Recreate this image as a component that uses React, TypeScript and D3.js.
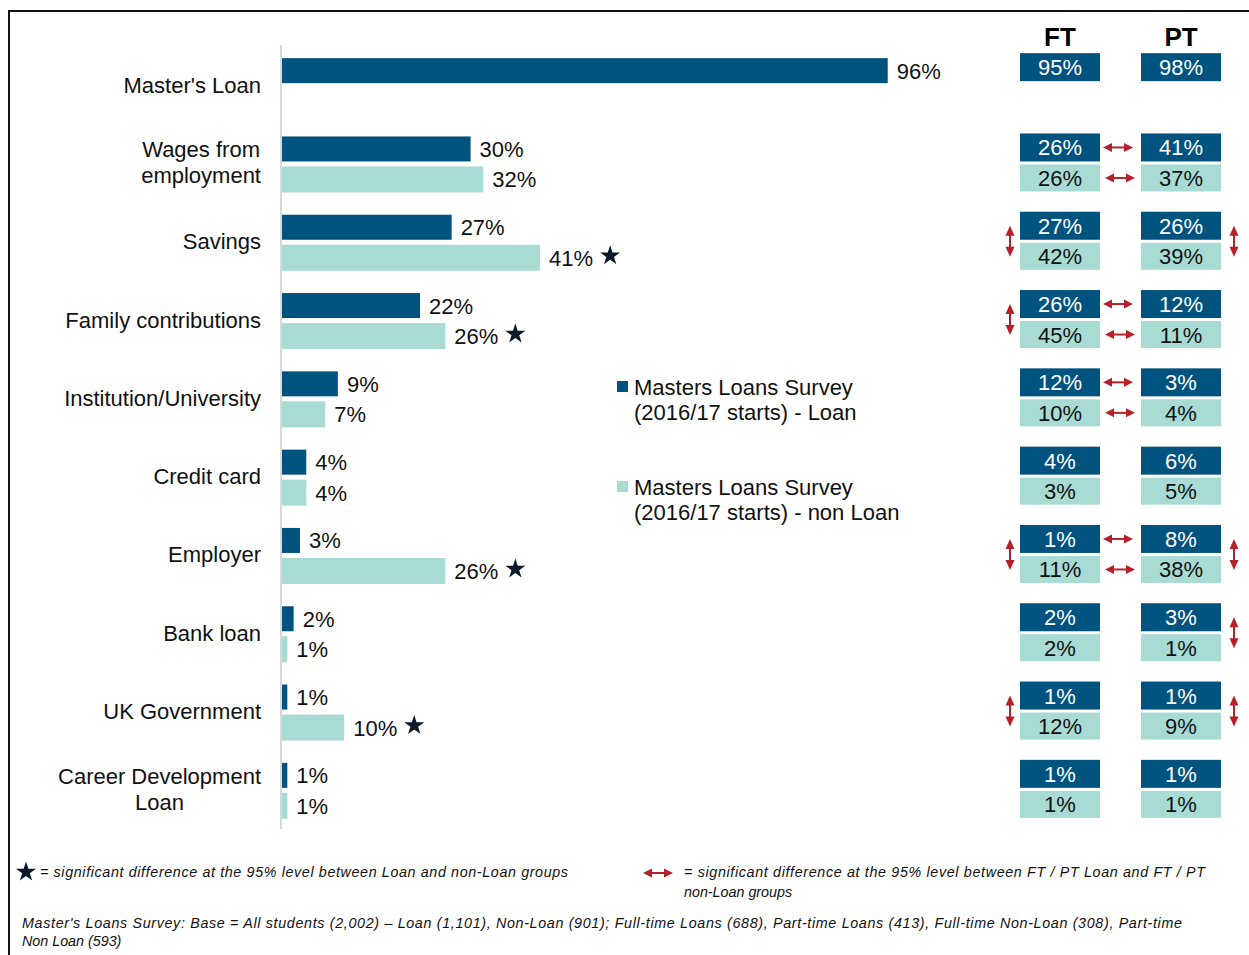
import React, { useMemo } from "react";
import * as d3 from "d3";

const categories = [
  "Master's Loan",
  "Wages from\nemployment",
  "Savings",
  "Family contributions",
  "Institution/University",
  "Credit card",
  "Employer",
  "Bank loan",
  "UK Government",
  "Career Development\nLoan",
];
const loanValues: (number | null)[] = [96, 30, 27, 22, 9, 4, 3, 2, 1, 1];
const nonLoanValues: (number | null)[] = [null, 32, 41, 26, 7, 4, 26, 1, 10, 1];
const starRows = ["Savings", "Family contributions", "Employer", "UK Government"];

const ftLoan: (number | null)[] = [95, 26, 27, 26, 12, 4, 1, 2, 1, 1];
const ftNonLoan: (number | null)[] = [null, 26, 42, 45, 10, 3, 11, 2, 12, 1];
const ptLoan: (number | null)[] = [98, 41, 26, 12, 3, 6, 8, 3, 1, 1];
const ptNonLoan: (number | null)[] = [null, 37, 39, 11, 4, 5, 38, 1, 9, 1];

const hArrowRows = ["Wages from\nemployment", "Family contributions", "Institution/University", "Employer"];
const vArrowFTRows = ["Savings", "Family contributions", "Employer", "UK Government"];
const vArrowPTRows = ["Savings", "Employer", "Bank loan", "UK Government"];

const legendLabels = [
  ["Masters Loans Survey", "(2016/17 starts) - Loan"],
  ["Masters Loans Survey", "(2016/17 starts) - non Loan"],
];
const colHeaders = ["FT", "PT"];

const DARK = "#00537F";
const LIGHT = "#A7DBD3";
const RED = "#B5202A";
const FONT = "'Liberation Sans', Arial, sans-serif";

function measure(text: string, font: string) {
  if (typeof document === "undefined") return text.length * 11;
  const c = document.createElement("canvas").getContext("2d");
  if (!c) return text.length * 11;
  c.font = font;
  return c.measureText(text).width;
}

const HArrow = ({ x1, x2, y }: { x1: number; x2: number; y: number }) => (
  <g fill={RED} stroke={RED}>
    <line x1={x1 + 6} x2={x2 - 6} y1={y} y2={y} strokeWidth={2} />
    <path d={`M${x1},${y} L${x1 + 9},${y - 4.5} L${x1 + 9},${y + 4.5} Z`} stroke="none" />
    <path d={`M${x2},${y} L${x2 - 9},${y - 4.5} L${x2 - 9},${y + 4.5} Z`} stroke="none" />
  </g>
);
const VArrow = ({ x, y1, y2 }: { x: number; y1: number; y2: number }) => (
  <g fill={RED} stroke={RED}>
    <line x1={x} x2={x} y1={y1 + 6} y2={y2 - 6} strokeWidth={2} />
    <path d={`M${x},${y1} L${x - 4.5},${y1 + 10} L${x + 4.5},${y1 + 10} Z`} stroke="none" />
    <path d={`M${x},${y2} L${x - 4.5},${y2 - 10} L${x + 4.5},${y2 - 10} Z`} stroke="none" />
  </g>
);

export default function App() {
  const x = d3.scaleLinear().domain([0, 100]).range([281, 913]);
  const y = d3.scaleBand<string>().domain(categories).range([47, 830]).padding(0);
  const cy = (c: string) => (y(c) as number) + y.bandwidth() / 2;
  const star = d3.symbol().type(d3.symbolStar).size(125)() as string;
  const labelFont = `22px ${FONT}`;

  const colX = [1020, 1141];
  const boxW = 80;
  const tables = [
    [ftLoan, ftNonLoan],
    [ptLoan, ptNonLoan],
  ];

  const labelNodes = useMemo(
    () =>
      categories.map((c) => {
        const lines = c.split("\n");
        const c0 = cy(c);
        if (lines.length === 1) {
          return (
            <text key={c} x={261} y={c0 + 6.5} textAnchor="end">
              {c}
            </text>
          );
        }
        const maxW = Math.max(...lines.map((l) => measure(l, labelFont)));
        const mid = 261 - maxW / 2;
        return (
          <text key={c} x={mid} textAnchor="middle">
            {lines.map((l, i) => (
              <tspan key={i} x={mid} y={c0 - 7 + i * 26}>
                {l}
              </tspan>
            ))}
          </text>
        );
      }),
    []
  );

  return (
    <svg
      width={1249}
      height={955}
      style={{ position: "absolute", left: 0, top: 0, background: "#fff" }}
      fontFamily={FONT}
    >
      {/* frame */}
      <line x1={8} x2={1249} y1={11} y2={11} stroke="#111" strokeWidth={2} />
      <line x1={9} x2={9} y1={10} y2={955} stroke="#111" strokeWidth={2} />

      {/* axis */}
      <line x1={x(0)} x2={x(0)} y1={45} y2={829} stroke="#D9D9D9" strokeWidth={2} />

      {/* category labels */}
      <g fontSize={22} fill="#111">{labelNodes}</g>

      {/* bars */}
      {categories.map((c, i) => {
        const c0 = cy(c);
        const lv = loanValues[i];
        const nv = nonLoanValues[i];
        return (
          <g key={c} fontSize={22} fill="#111">
            {lv != null && (
              <>
                <rect x={x(0) + 1} y={c0 - 28} width={x(lv) - x(0) - 1} height={25} fill={DARK} />
                <text x={x(lv) + 9} y={c0 - 15.5 + 8}>
                  {lv}%
                </text>
              </>
            )}
            {nv != null && (
              <>
                <rect x={x(0) + 1} y={c0 + 2} width={x(nv) - x(0) - 1} height={26} fill={LIGHT} />
                <text x={x(nv) + 9} y={c0 + 15 + 8}>
                  {nv}%
                </text>
                {starRows.includes(c) && (
                  <path
                    d={star}
                    transform={`translate(${x(nv) + 9 + measure(`${nv}%`, labelFont) + 17},${c0 + 13})`}
                    fill="#0A1A2A"
                  />
                )}
              </>
            )}
          </g>
        );
      })}

      {/* legend */}
      {legendLabels.map((lines, i) => {
        const ly = 381 + i * 100;
        return (
          <g key={i} fontSize={22} fill="#111">
            <rect x={617} y={ly} width={11} height={11} fill={i === 0 ? DARK : LIGHT} />
            {lines.map((l, j) => (
              <text key={j} x={634} y={ly + 14 + j * 25}>
                {l}
              </text>
            ))}
          </g>
        );
      })}

      {/* column headers */}
      {colHeaders.map((h, k) => (
        <text
          key={h}
          x={colX[k] + boxW / 2}
          y={46}
          textAnchor="middle"
          fontSize={26}
          fontWeight="bold"
          fill="#000"
        >
          {h}
        </text>
      ))}

      {/* FT / PT table */}
      {categories.map((c, i) => {
        const c0 = cy(c);
        const top = i === 0 ? c0 - 33 : c0 - 31;
        return (
          <g key={c} fontSize={22}>
            {tables.map((t, k) => (
              <g key={k}>
                {t[0][i] != null && (
                  <>
                    <rect x={colX[k]} y={top} width={boxW} height={28} fill={DARK} />
                    <text x={colX[k] + boxW / 2} y={top + 14 + 8} textAnchor="middle" fill="#fff">
                      {t[0][i]}%
                    </text>
                  </>
                )}
                {t[1][i] != null && (
                  <>
                    <rect x={colX[k]} y={c0} width={boxW} height={27} fill={LIGHT} />
                    <text x={colX[k] + boxW / 2} y={c0 + 13.5 + 8} textAnchor="middle" fill="#111">
                      {t[1][i]}%
                    </text>
                  </>
                )}
              </g>
            ))}
            {hArrowRows.includes(c) && (
              <>
                <HArrow x1={1103} x2={1133} y={c0 - 17} />
                <HArrow x1={1105} x2={1135} y={c0 + 13.5} />
              </>
            )}
            {vArrowFTRows.includes(c) && <VArrow x={1010} y1={c0 - 17} y2={c0 + 14} />}
            {vArrowPTRows.includes(c) && <VArrow x={1234} y1={c0 - 17} y2={c0 + 14} />}
          </g>
        );
      })}

      {/* footer notes */}
      <g fontSize={14.3} fontStyle="italic" fill="#111">
        <path d={star} transform="translate(26,872)" fill="#0A1A2A" />
        <text x={40} y={877} textLength={528} lengthAdjust="spacing">
          = significant difference at the 95% level between Loan and non-Loan  groups
        </text>
        <HArrow x1={643} x2={673} y={873} />
        <text x={684} y={877} textLength={521} lengthAdjust="spacing">
          = significant difference at the 95% level between FT / PT Loan and FT / PT
        </text>
        <text x={684} y={897}>
          non-Loan  groups
        </text>
        <text x={22} y={928} textLength={1160} lengthAdjust="spacing">
          Master's Loans Survey: Base = All students (2,002) – Loan (1,101), Non-Loan (901); Full-time Loans (688), Part-time Loans (413), Full-time Non-Loan (308), Part-time
        </text>
        <text x={22} y={946}>
          Non Loan (593)
        </text>
      </g>
    </svg>
  );
}
